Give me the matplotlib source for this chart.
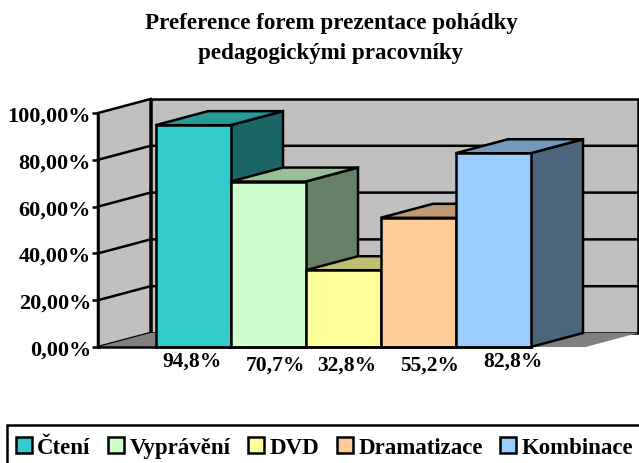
"""
3D-look bar chart: Preference forem prezentace pohadky
"""
import matplotlib
matplotlib.use("Agg")
import matplotlib.pyplot as plt
from matplotlib.patches import Polygon, Patch, Rectangle

plt.rcParams['font.family'] = ['Liberation Serif', 'DejaVu Serif']
plt.rcParams['font.weight'] = 'bold'

# data
categories = ["Čtení", "Vyprávění", "DVD", "Dramatizace", "Kombinace"]
values = [94.8, 70.7, 32.8, 55.2, 82.8]
value_labels = ["94,8%", "70,7%", "32,8%", "55,2%", "82,8%"]
y_ticks = [0, 20, 40, 60, 80, 100]
y_tick_labels = ["0,00%", "20,00%", "40,00%", "60,00%", "80,00%", "100,00%"]

# colours: front, top, side
front_colors = ["#33CCCC", "#CCFFCC", "#FFFF99", "#FFCC99", "#99CCFF"]
top_colors = ["#269999", "#99BF99", "#BFBF73", "#BF9973", "#7399BF"]
side_colors = ["#1A6666", "#668066", "#808050", "#806650", "#4D6680"]
wall_color = "#C0C0C0"
floor_color = "#808080"

# label offsets in pixels from the bar centre (the labels sit unevenly)
label_dx = [-1, 7, 4, 12, 20]
label_dy = [-14, -18, -18, -18, -14]

W, H = 639, 464
fig = plt.figure(figsize=(W / 100, H / 100), dpi=100)

# axes = front plane of the chart
left, right, bottom, top = 98, 585.5, 348, 114
ax = fig.add_axes([left / W, 1 - bottom / H, (right - left) / W, (bottom - top) / H])
bar_w = 75.0
ax.set_xlim(-0.5 - (155.5 - left) / bar_w, 4.5 + (right - 530.5) / bar_w)
ax.set_ylim(0, 100)

# depth of the fake 3D box, in data units
dx = 52.5 / bar_w
dy = 14.0 / (bottom - top) * 100
x0, x1 = ax.get_xlim()
LW = 1.8


def poly(points, color, z=2):
    ax.add_patch(Polygon(points, closed=True, facecolor=color, edgecolor="black",
                         linewidth=LW, joinstyle="miter", clip_on=False, zorder=z))


# walls and floor
poly([(x0, 0), (x0 + dx, dy), (x0 + dx, 100 + dy), (x0, 100)], wall_color, 1)
poly([(x0 + dx, dy), (x1 + dx, dy), (x1 + dx, 100 + dy), (x0 + dx, 100 + dy)], wall_color, 1)
ax.add_patch(Polygon([(x0, 0), (x1, 0), (x1 + dx, dy), (x0 + dx, dy)], closed=True,
                     facecolor=floor_color, edgecolor="none", clip_on=False, zorder=1.2))

# gridlines on the walls
for t in y_ticks[1:-1]:
    ax.plot([x0, x0 + dx, x1 + dx], [t, t + dy, t + dy], color="black", lw=LW,
            clip_on=False, zorder=1.5)

# bars, left to right so each one covers the previous side
for i, v in enumerate(values):
    a, b = i - 0.5, i + 0.5
    z = 3 + i
    poly([(b, 0), (b + dx, dy), (b + dx, v + dy), (b, v)], side_colors[i], z)
    poly([(a, v), (b, v), (b + dx, v + dy), (a + dx, v + dy)], top_colors[i], z)
    poly([(a, 0), (b, 0), (b, v), (a, v)], front_colors[i], z)
    ax.annotate(value_labels[i], (i, 0), xytext=(label_dx[i] * 0.72, label_dy[i] * 0.72),
                textcoords="offset points", ha="center", va="center",
                fontsize=15.5, annotation_clip=False)

# front baseline
ax.plot([x0, 4.5], [0, 0], color="black", lw=LW, clip_on=False, zorder=20)

for s in ["top", "right", "bottom"]:
    ax.spines[s].set_visible(False)
ax.spines["left"].set_linewidth(LW)
ax.set_xticks([])
ax.set_yticks(y_ticks)
ax.set_yticklabels(y_tick_labels, fontsize=16)
ax.tick_params(axis="y", length=4.5, width=LW, pad=0.5)
ax.patch.set_visible(False)

fig.text(331 / W, 1 - 38.5 / H, "Preference forem prezentace pohádky\npedagogickými pracovníky",
         ha="center", va="center", fontsize=16.6, linespacing=1.5)

# legend box runs off the right and bottom of the picture
fig.add_artist(Rectangle((7 / W, 1 - 475 / H), 650 / W, 49 / H, transform=fig.transFigure,
                         facecolor="white", edgecolor="black", linewidth=LW))

handles = [Patch(facecolor=c, edgecolor="black", linewidth=LW) for c in front_colors]
leg = fig.legend(handles, categories, loc="upper left", bbox_to_anchor=(16 / W, 1 - 438 / H),
                 ncol=5, fontsize=16.5, frameon=False, borderaxespad=0, borderpad=0,
                 handlelength=0.7, handleheight=0.7, handletextpad=0.22, columnspacing=0.78)

fig.savefig("out.png", dpi=100)
